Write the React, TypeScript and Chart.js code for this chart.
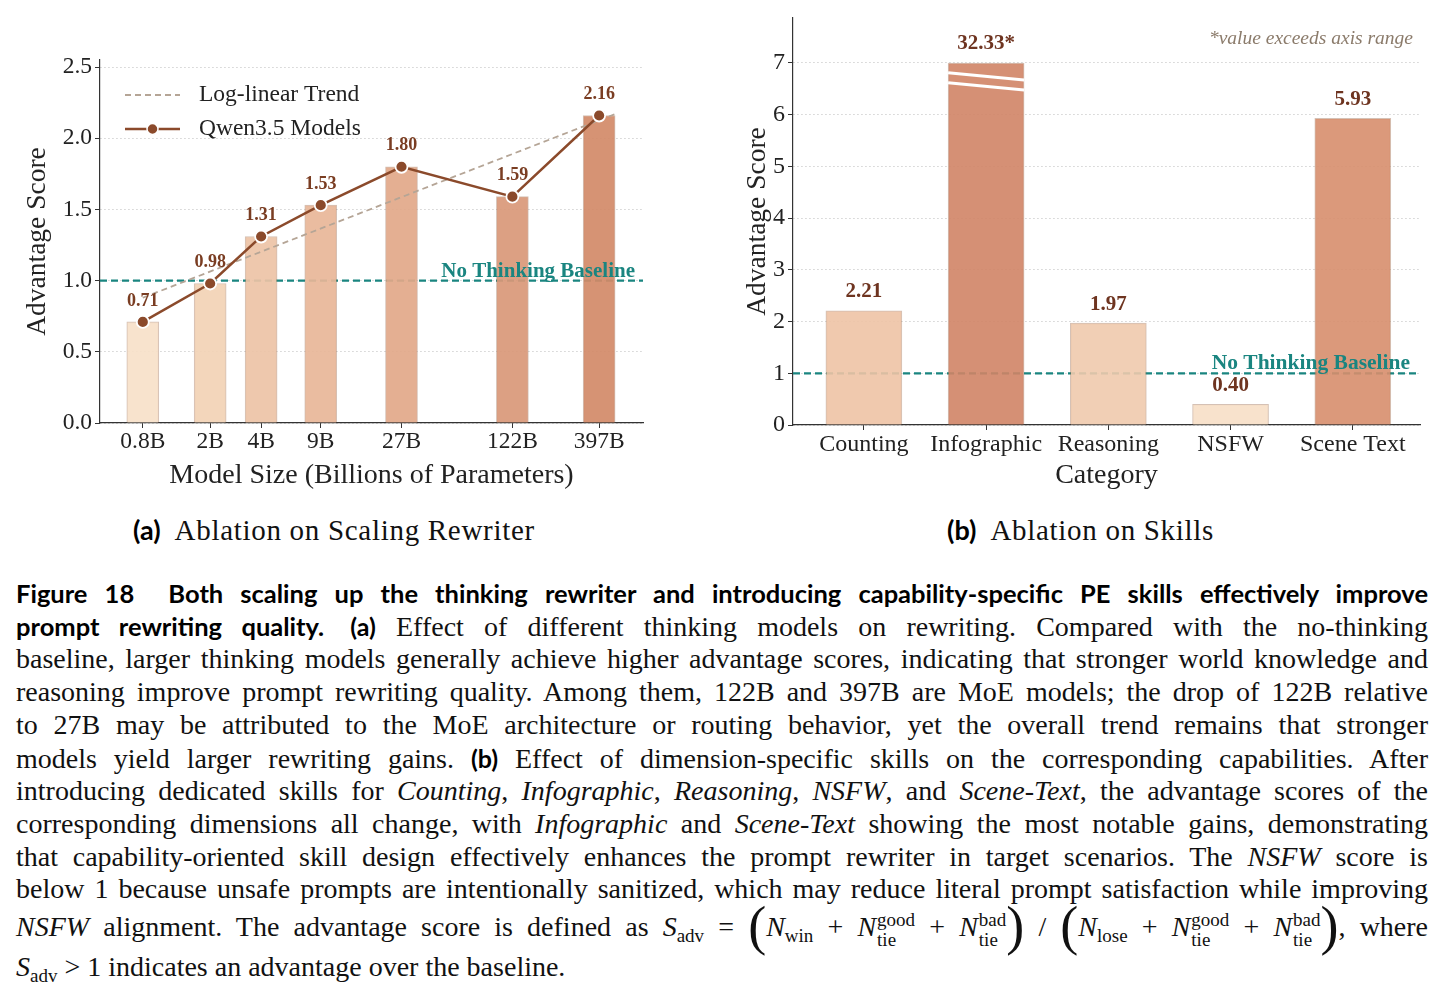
import React, { useEffect, useRef } from 'react';
import { Chart, registerables } from 'chart.js';

Chart.register(...registerables);

const serif = "'Liberation Serif', 'Times New Roman', serif";
const sans = "Lato, 'Noto Sans', sans-serif";
Chart.defaults.font.family = serif;

// ---------- data: (a) scaling rewriter ----------
const modelLabels = ['0.8B', '2B', '4B', '9B', '27B', '122B', '397B'];
const modelSizes = [0.8, 2, 4, 9, 27, 122, 397];
const modelScores = [0.71, 0.98, 1.31, 1.53, 1.8, 1.59, 2.16];
const trendSizes = [0.8, 493];
const trendScores = [0.88, 2.17];
const leftTicks = [0, 0.5, 1.0, 1.5, 2.0, 2.5];
const leftXRange = [0.447, 721];
const leftYMax = 2.55;

// ---------- data: (b) skills ----------
const skillCategories = ['Counting', 'Infographic', 'Reasoning', 'NSFW', 'Scene Text'];
const skillScores = [2.21, 32.33, 1.97, 0.4, 5.93];
const skillAxisCap = 7;
const rightTicks = [0, 1, 2, 3, 4, 5, 6, 7];
const rightXRange = [-0.58, 4.55];
const rightYMax = 7.87;
const breakMarks = [
  [6.81, 6.67],
  [6.62, 6.48],
];

const baselineValue = 1;

// ---------- styles ----------
const leftColors = ['#f7e1c9', '#f2d2b5', '#edc3a6', '#e8b698', '#e2a889', '#d99878', '#d28a68'];
const rightColors = ['#eec3a5', '#d08466', '#efcaad', '#f7dfc6', '#d78e6d'];
const lineBrown = '#8b4a2b';
const labelBrown = '#7a3d22';
const labelBrownR = '#6e3420';
const trendColor = '#b5a596';
const teal = '#1a8580';
const axisColor = '#333';
const gridColor = 'rgba(0,0,0,0.18)';

const leftDecor = {
  id: 'leftDecor',
  afterDatasetsDraw(chart: any) {
    const { ctx, chartArea, scales } = chart;
    const x = scales.x;
    const y = scales.y;
    ctx.save();
    ctx.font = `bold 18px ${serif}`;
    ctx.fillStyle = labelBrown;
    ctx.textAlign = 'center';
    ctx.textBaseline = 'middle';
    modelSizes.forEach((s, i) => {
      ctx.fillText(modelScores[i].toFixed(2), x.getPixelForValue(s), y.getPixelForValue(modelScores[i]) - 21);
    });
    ctx.font = `bold 21px ${serif}`;
    ctx.fillStyle = teal;
    ctx.textAlign = 'right';
    ctx.textBaseline = 'alphabetic';
    ctx.fillText('No Thinking Baseline', chartArea.right - 8, y.getPixelForValue(baselineValue) - 4);
    const lx = chartArea.left + 25;
    const r1 = chartArea.top + 35;
    const r2 = chartArea.top + 69;
    ctx.strokeStyle = trendColor;
    ctx.lineWidth = 1.8;
    ctx.setLineDash([6, 4]);
    ctx.beginPath();
    ctx.moveTo(lx, r1);
    ctx.lineTo(lx + 55, r1);
    ctx.stroke();
    ctx.setLineDash([]);
    ctx.strokeStyle = lineBrown;
    ctx.lineWidth = 2.5;
    ctx.beginPath();
    ctx.moveTo(lx, r2);
    ctx.lineTo(lx + 55, r2);
    ctx.stroke();
    ctx.beginPath();
    ctx.arc(lx + 27.5, r2, 5.5, 0, Math.PI * 2);
    ctx.fillStyle = lineBrown;
    ctx.fill();
    ctx.strokeStyle = '#fff';
    ctx.lineWidth = 1.5;
    ctx.stroke();
    ctx.font = `23.5px ${serif}`;
    ctx.fillStyle = '#222';
    ctx.textAlign = 'left';
    ctx.textBaseline = 'middle';
    ctx.fillText('Log-linear Trend', lx + 74, r1);
    ctx.fillText('Qwen3.5 Models', lx + 74, r2);
    ctx.restore();
  },
};

const rightDecor = {
  id: 'rightDecor',
  afterDatasetsDraw(chart: any) {
    const { ctx, chartArea, scales } = chart;
    const y = scales.y;
    const meta = chart.getDatasetMeta(0);
    ctx.save();
    skillScores.forEach((v, i) => {
      if (v <= skillAxisCap) return;
      const bar: any = meta.data[i];
      const half = bar.width / 2;
      ctx.strokeStyle = '#ffffff';
      ctx.lineWidth = 3;
      breakMarks.forEach(([a, b]) => {
        ctx.beginPath();
        ctx.moveTo(bar.x - half, y.getPixelForValue(a));
        ctx.lineTo(bar.x + half, y.getPixelForValue(b));
        ctx.stroke();
      });
    });
    ctx.font = `bold 21px ${serif}`;
    ctx.fillStyle = labelBrownR;
    ctx.textAlign = 'center';
    ctx.textBaseline = 'middle';
    skillScores.forEach((v, i) => {
      const bar: any = meta.data[i];
      const shown = Math.min(v, skillAxisCap);
      const txt = v > skillAxisCap ? v.toFixed(2) + '*' : v.toFixed(2);
      ctx.fillText(txt, bar.x, y.getPixelForValue(shown) - 19);
    });
    ctx.font = `bold 21.5px ${serif}`;
    ctx.fillStyle = teal;
    ctx.textAlign = 'right';
    ctx.textBaseline = 'alphabetic';
    ctx.fillText('No Thinking Baseline', chartArea.right - 10, y.getPixelForValue(baselineValue) - 4);
    ctx.font = `italic 19.5px ${serif}`;
    ctx.fillStyle = '#8b7b6b';
    ctx.textAlign = 'right';
    ctx.textBaseline = 'middle';
    ctx.fillText('*value exceeds axis range', chartArea.right - 7, 39);
    ctx.restore();
  },
};

function withAlpha(hex: string, a: number) {
  const n = parseInt(hex.slice(1), 16);
  return `rgba(${(n >> 16) & 255},${(n >> 8) & 255},${n & 255},${a})`;
}

function xAxisBase(height: number) {
  return {
    offset: false,
    afterFit: (s: any) => {
      s.height = height;
    },
    grid: { display: true, drawOnChartArea: false, drawTicks: true, tickLength: 5, color: axisColor, offset: false },
    border: { display: true, color: axisColor, width: 1.2 },
  };
}

function leftConfig(): any {
  const pts = modelSizes.map((s, i) => ({ x: s, y: modelScores[i] }));
  return {
    type: 'bar',
    data: {
      datasets: [
        {
          type: 'bar',
          data: pts,
          backgroundColor: leftColors.map((c) => withAlpha(c, 0.92)),
          borderColor: 'rgba(150,100,70,0.4)',
          borderWidth: 1,
          barThickness: 32,
          order: 2,
        },
        {
          type: 'line',
          data: pts,
          borderColor: lineBrown,
          borderWidth: 2.5,
          pointRadius: 6,
          pointBackgroundColor: lineBrown,
          pointBorderColor: '#ffffff',
          pointBorderWidth: 1.8,
          order: 0,
        },
        {
          type: 'line',
          data: trendSizes.map((s, i) => ({ x: s, y: trendScores[i] })),
          borderColor: trendColor,
          borderWidth: 1.8,
          borderDash: [6, 4],
          pointRadius: 0,
          order: 1,
        },
        {
          type: 'line',
          data: leftXRange.map((s) => ({ x: s, y: baselineValue })),
          borderColor: teal,
          borderWidth: 2.2,
          borderDash: [7, 4],
          pointRadius: 0,
          order: 3,
        },
      ],
    },
    options: {
      responsive: false,
      animation: false,
      devicePixelRatio: 1,
      layout: { padding: { top: 60, right: 17, left: 0, bottom: 0 } },
      plugins: { legend: { display: false }, tooltip: { enabled: false } },
      scales: {
        x: {
          ...xAxisBase(77),
          type: 'logarithmic',
          min: leftXRange[0],
          max: leftXRange[1],
          afterBuildTicks: (s: any) => {
            s.ticks = modelSizes.map((v) => ({ value: v }));
          },
          ticks: {
            callback: (v: any) => modelLabels[modelSizes.indexOf(Number(v))] ?? '',
            font: { size: 23.5, family: serif },
            color: '#222',
            padding: 0,
            autoSkip: false,
            maxRotation: 0,
          },
          title: {
            display: true,
            text: 'Model Size (Billions of Parameters)',
            font: { size: 28, family: serif },
            color: '#222',
            padding: { top: 0, bottom: 8 },
          },
        },
        y: {
          type: 'linear',
          min: 0,
          max: leftYMax,
          afterBuildTicks: (s: any) => {
            s.ticks = leftTicks.map((v) => ({ value: v }));
          },
          afterFit: (s: any) => {
            s.width = 100;
          },
          ticks: {
            callback: (v: any) => Number(v).toFixed(1),
            font: { size: 23.5, family: serif },
            color: '#222',
            padding: 3,
          },
          grid: { color: gridColor, tickColor: axisColor, tickLength: 5, lineWidth: 1 },
          border: { display: true, color: axisColor, width: 1.2, dash: [1.5, 2.5] },
          title: {
            display: true,
            text: 'Advantage Score',
            font: { size: 27.5, family: serif },
            color: '#222',
            padding: { top: 21, bottom: 0 },
          },
        },
      },
    },
    plugins: [leftDecor],
  };
}

function rightConfig(): any {
  const pts = skillScores.map((v, i) => ({ x: i, y: Math.min(v, skillAxisCap) }));
  return {
    type: 'bar',
    data: {
      datasets: [
        {
          type: 'bar',
          data: pts,
          backgroundColor: rightColors.map((c) => withAlpha(c, 0.9)),
          borderColor: 'rgba(150,100,70,0.4)',
          borderWidth: 1,
          barThickness: 76,
          order: 1,
        },
        {
          type: 'line',
          data: rightXRange.map((s) => ({ x: s, y: baselineValue })),
          borderColor: teal,
          borderWidth: 2.2,
          borderDash: [7, 4],
          pointRadius: 0,
          order: 3,
        },
      ],
    },
    options: {
      responsive: false,
      animation: false,
      devicePixelRatio: 1,
      layout: { padding: { top: 18, right: 24, left: 0, bottom: 0 } },
      plugins: { legend: { display: false }, tooltip: { enabled: false } },
      scales: {
        x: {
          ...xAxisBase(75),
          type: 'linear',
          min: rightXRange[0],
          max: rightXRange[1],
          afterBuildTicks: (s: any) => {
            s.ticks = skillCategories.map((_, i) => ({ value: i }));
          },
          ticks: {
            callback: (v: any) => skillCategories[Number(v)] ?? '',
            font: { size: 24, family: serif },
            color: '#222',
            padding: 0,
            autoSkip: false,
            maxRotation: 0,
          },
          title: {
            display: true,
            text: 'Category',
            font: { size: 28, family: serif },
            color: '#222',
            padding: { top: 0, bottom: 8 },
          },
        },
        y: {
          type: 'linear',
          min: 0,
          max: rightYMax,
          afterBuildTicks: (s: any) => {
            s.ticks = rightTicks.map((v) => ({ value: v }));
          },
          afterFit: (s: any) => {
            s.width = 93;
          },
          ticks: {
            callback: (v: any) => String(v),
            font: { size: 24, family: serif },
            color: '#222',
            padding: 3,
          },
          grid: { color: gridColor, tickColor: axisColor, tickLength: 5, lineWidth: 1 },
          border: { display: true, color: axisColor, width: 1.2, dash: [1.5, 2.5] },
          title: {
            display: true,
            text: 'Advantage Score',
            font: { size: 27.5, family: serif },
            color: '#222',
            padding: { top: 41, bottom: 0 },
          },
        },
      },
    },
    plugins: [rightDecor],
  };
}

function ChartBox({ make, left, top, width, height }: any) {
  const ref = useRef<HTMLCanvasElement>(null);
  useEffect(() => {
    const c = new Chart(ref.current as HTMLCanvasElement, make());
    return () => c.destroy();
  }, []);
  return (
    <div style={{ position: 'absolute', left, top, width, height }}>
      <canvas ref={ref} width={width} height={height} style={{ display: 'block' }} />
    </div>
  );
}

const B = ({ children, size = 25 }: any) => (
  <span style={{ fontFamily: sans, fontWeight: 700, fontSize: size, color: '#000', letterSpacing: 0 }}>{children}</span>
);
const I = ({ children }: any) => <i>{children}</i>;
const Sub = ({ children }: any) => (
  <span style={{ fontSize: 19, position: 'relative', top: 6, fontStyle: 'normal' }}>{children}</span>
);
const Tie = ({ sup }: any) => (
  <span
    style={{
      display: 'inline-flex',
      flexDirection: 'column',
      verticalAlign: 'middle',
      fontSize: 19,
      lineHeight: '20px',
      marginLeft: 1,
      fontStyle: 'normal',
    }}
  >
    <span>{sup}</span>
    <span>tie</span>
  </span>
);
const Paren = ({ c }: any) => (
  <span style={{ display: 'inline-block', fontSize: 54, lineHeight: '30px', verticalAlign: '-8px', fontWeight: 300 }}>
    {c}
  </span>
);

function lineStyle(center: number, last = false): React.CSSProperties {
  return {
    position: 'absolute',
    left: 16,
    width: 1412,
    top: center - 17,
    height: 34,
    lineHeight: '34px',
    fontFamily: serif,
    fontSize: 28,
    color: '#111',
    textAlign: last ? 'left' : 'justify',
    textAlignLast: last ? 'left' : 'justify',
  } as React.CSSProperties;
}

const subStyle: React.CSSProperties = {
  position: 'absolute',
  top: 513,
  height: 34,
  lineHeight: '34px',
  whiteSpace: 'nowrap',
  fontFamily: serif,
  fontSize: 29,
  letterSpacing: 0.7,
  color: '#111',
};

export default function App() {
  return (
    <div style={{ position: 'absolute', left: 0, top: 0, width: 1444, height: 1000, background: '#fff', overflow: 'hidden' }}>
      <ChartBox make={leftConfig} left={0} top={0} width={660} height={500} />
      <ChartBox make={rightConfig} left={700} top={0} width={744} height={500} />

      <div style={{ ...subStyle, left: 133 }}>
        <B size={27}>(a)</B>
        <span style={{ display: 'inline-block', width: 14 }} />
        Ablation on Scaling Rewriter
      </div>
      <div style={{ ...subStyle, left: 947 }}>
        <B size={27}>(b)</B>
        <span style={{ display: 'inline-block', width: 14 }} />
        Ablation on Skills
      </div>

      <div style={{ ...lineStyle(593), fontFamily: sans, fontWeight: 700, fontSize: 25.5, color: '#000' }}>
        Figure 18&nbsp; Both scaling up the thinking rewriter and introducing capability-specific PE skills effectively improve
      </div>
      <div style={lineStyle(626)}>
        <B size={25.5}>prompt rewriting quality.</B>
        <span style={{ display: 'inline-block', width: 6 }} /> <B>(a)</B> Effect of different thinking models on rewriting. Compared with the no-thinking
      </div>
      <div style={lineStyle(659)}>
        baseline, larger thinking models generally achieve higher advantage scores, indicating that stronger world knowledge and
      </div>
      <div style={lineStyle(692)}>
        reasoning improve prompt rewriting quality. Among them, 122B and 397B are MoE models; the drop of 122B relative
      </div>
      <div style={lineStyle(725)}>
        to 27B may be attributed to the MoE architecture or routing behavior, yet the overall trend remains that stronger
      </div>
      <div style={lineStyle(758)}>
        models yield larger rewriting gains. <B>(b)</B> Effect of dimension-specific skills on the corresponding capabilities. After
      </div>
      <div style={lineStyle(791)}>
        introducing dedicated skills for <I>Counting</I>, <I>Infographic</I>, <I>Reasoning</I>, <I>NSFW</I>, and <I>Scene-Text</I>, the advantage scores of the
      </div>
      <div style={lineStyle(824)}>
        corresponding dimensions all change, with <I>Infographic</I> and <I>Scene-Text</I> showing the most notable gains, demonstrating
      </div>
      <div style={lineStyle(857)}>
        that capability-oriented skill design effectively enhances the prompt rewriter in target scenarios. The <I>NSFW</I> score is
      </div>
      <div style={lineStyle(889)}>
        below 1 because unsafe prompts are intentionally sanitized, which may reduce literal prompt satisfaction while improving
      </div>
      <div style={lineStyle(927)}>
        <I>NSFW</I> alignment. The advantage score is defined as <I>S</I>
        <Sub>adv</Sub> = <Paren c="(" />
        <I>N</I>
        <Sub>win</Sub> + <I>N</I>
        <Tie sup="good" /> + <I>N</I>
        <Tie sup="bad" />
        <Paren c=")" /> / <Paren c="(" />
        <I>N</I>
        <Sub>lose</Sub> + <I>N</I>
        <Tie sup="good" /> + <I>N</I>
        <Tie sup="bad" />
        <Paren c=")" />, where
      </div>
      <div style={lineStyle(967, true)}>
        <I>S</I>
        <Sub>adv</Sub> &gt; 1 indicates an advantage over the baseline.
      </div>
    </div>
  );
}
